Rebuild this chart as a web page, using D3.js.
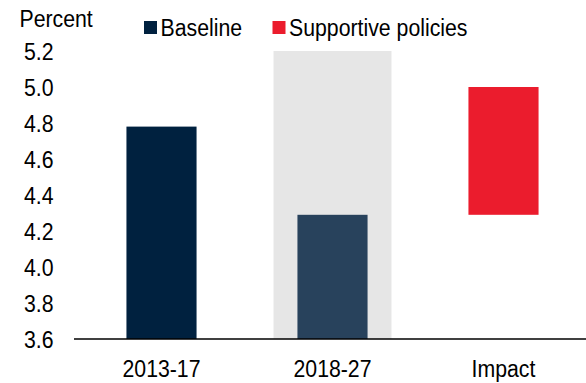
<!DOCTYPE html>
<html><head><meta charset="utf-8">
<script src="https://cdn.jsdelivr.net/npm/d3@7"></script>
<style>
html,body{margin:0;padding:0;background:#fff;}
svg{display:block;font-family:"Liberation Sans",Arial,sans-serif;}
</style></head>
<body><svg id="c" width="586" height="383"></svg>
<script>
const categories = ["2013-17", "2018-27", "Impact"];
const baselineValues = [4.78, 4.29, null];
const supportiveLow = [null, null, 4.29];
const supportiveHigh = [null, null, 5.00];
const yTicks = [3.6, 3.8, 4.0, 4.2, 4.4, 4.6, 4.8, 5.0, 5.2];
const shadedCategory = "2018-27";
const legendLabels = ["Baseline", "Supportive policies"];

const FS = 23.5, SX = 0.905;
const svg = d3.select("#c");
const y = d3.scaleLinear().domain([3.6, 5.2]).range([339, 51]);
const x = d3.scaleBand().domain(categories).range([76, 589]).padding(0);
const barW = x.bandwidth() * 0.41;
const bandW = x.bandwidth() * 0.69;
const cx = c => x(c) + x.bandwidth() / 2;

// shaded projection area
svg.append("rect")
  .attr("x", cx(shadedCategory) - bandW / 2)
  .attr("width", bandW)
  .attr("y", y(5.2))
  .attr("height", y(3.6) - y(5.2))
  .attr("fill", "#e6e6e6");

const baseColors = ["#00213f", "#28425c", "#28425c"];
categories.forEach((c, i) => {
  if (baselineValues[i] != null) {
    svg.append("rect")
      .attr("x", cx(c) - barW / 2)
      .attr("width", barW)
      .attr("y", y(baselineValues[i]))
      .attr("height", y(3.6) - y(baselineValues[i]))
      .attr("fill", baseColors[i]);
  }
  if (supportiveLow[i] != null) {
    svg.append("rect")
      .attr("x", cx(c) - barW / 2)
      .attr("width", barW)
      .attr("y", y(supportiveHigh[i]))
      .attr("height", y(supportiveLow[i]) - y(supportiveHigh[i]))
      .attr("fill", "#eb1c2d");
  }
});

// y axis labels
const yAxis = d3.axisLeft(y).tickValues(yTicks).tickSize(0).tickPadding(0)
  .tickFormat(d3.format(".1f"));
const yg = svg.append("g").attr("transform", "translate(53.5,0)").call(yAxis);
yg.select(".domain").remove();
yg.selectAll("text").attr("font-size", FS).attr("fill", "#000")
  .attr("font-family", "Liberation Sans, Arial, sans-serif")
  .attr("x", 0).attr("dy", 0).attr("y", 8)
  .attr("transform", `scale(${SX},1)`);

// x axis
const xAxis = d3.axisBottom(x).tickSize(0).tickPadding(0);
const xg = svg.append("g").attr("transform", `translate(0,${y(3.6)})`).call(xAxis);
xg.select(".domain").remove();
xg.selectAll("text").attr("font-size", FS).attr("fill", "#000")
  .attr("font-family", "Liberation Sans, Arial, sans-serif")
  .attr("y", 37.7).attr("dy", 0)
  .attr("transform", `scale(${SX},1)`);
svg.append("line").attr("x1", 74).attr("x2", 586)
  .attr("y1", y(3.6)).attr("y2", y(3.6))
  .attr("stroke", "#000").attr("stroke-width", 1.3);

// axis title
svg.append("text").attr("transform", `translate(19.5,27.3) scale(${SX},1)`)
  .attr("font-size", FS).text("Percent");

// legend
const legColors = ["#00213f", "#eb1c2d"];
const legX = [144, 272.5];
legendLabels.forEach((t, i) => {
  svg.append("rect").attr("x", legX[i]).attr("y", 21).attr("width", 13).attr("height", 13).attr("fill", legColors[i]);
  svg.append("text").attr("transform", `translate(${legX[i] + 16.5},36) scale(${SX},1)`)
    .attr("font-size", FS).text(t);
});
</script></body></html>
